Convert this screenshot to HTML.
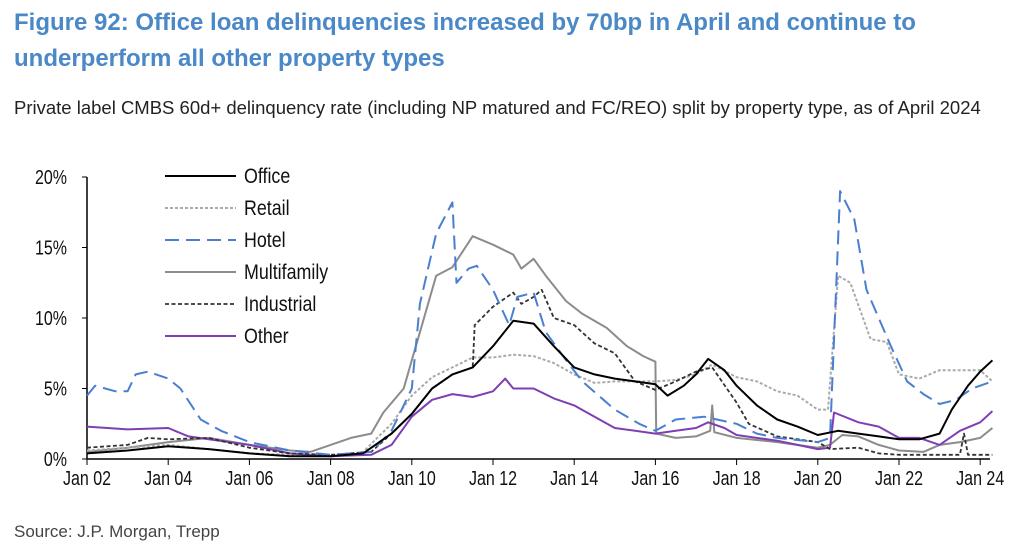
<!DOCTYPE html>
<html><head><meta charset="utf-8"><style>
body{margin:0;background:#fff;width:1032px;height:555px;overflow:hidden;font-family:"Liberation Sans",sans-serif}
.t{position:absolute;left:14px;top:5px;color:#4a88c7;font-weight:bold;font-size:24px;line-height:36px;white-space:nowrap}
.s{position:absolute;left:14px;top:97px;font-size:18.5px;color:#222;white-space:nowrap}
.src{position:absolute;left:14px;top:522px;font-size:17px;color:#444}
</style></head><body>
<div class="t">Figure 92: Office loan delinquencies increased by 70bp in April and continue to<br>underperform all other property types</div>
<div class="s">Private label CMBS 60d+ delinquency rate (including NP matured and FC/REO) split by property type, as of April 2024</div>
<div class="src">Source: J.P. Morgan, Trepp</div>
<svg id="c" width="1032" height="555" style="position:absolute;left:0;top:0"></svg>
<script>
const yTicks=[0,5,10,15,20];
const xTickYears=[2002,2004,2006,2008,2010,2012,2014,2016,2018,2020,2022,2024];
const xTickLabels=["Jan 02","Jan 04","Jan 06","Jan 08","Jan 10","Jan 12","Jan 14","Jan 16","Jan 18","Jan 20","Jan 22","Jan 24"];
const office=[[2002,0.4],[2003,0.6],[2004,0.9],[2005,0.7],[2006,0.4],[2007,0.2],[2008,0.2],[2008.8,0.4],[2009.5,1.8],[2010,3.2],[2010.5,5],[2011,6],[2011.5,6.5],[2012,8],[2012.5,9.8],[2013,9.6],[2013.5,8],[2014,6.5],[2014.5,6],[2015,5.7],[2015.5,5.5],[2016,5.3],[2016.3,4.5],[2016.7,5.2],[2017,6],[2017.3,7.1],[2017.7,6.3],[2018,5.2],[2018.5,3.8],[2019,2.8],[2019.5,2.3],[2020,1.7],[2020.5,2.0],[2021,1.8],[2021.5,1.6],[2022,1.4],[2022.5,1.4],[2023,1.8],[2023.3,3.5],[2023.7,5.2],[2024,6.2],[2024.3,7.0]];
const retail=[[2002,0.6],[2004,1.0],[2006,0.4],[2008,0.2],[2008.8,0.5],[2009.5,2.5],[2010,4.5],[2010.5,5.8],[2011,6.5],[2011.5,7.2],[2012,7.2],[2012.5,7.4],[2013,7.3],[2013.5,6.8],[2014,6],[2014.5,5.4],[2015,5.5],[2016,5.5],[2016.5,5.6],[2017,6],[2017.4,6.7],[2018,5.8],[2018.5,5.5],[2019,4.8],[2019.5,4.5],[2020,3.5],[2020.25,3.5],[2020.5,13],[2020.8,12.5],[2021.3,8.5],[2021.7,8.3],[2022,6],[2022.5,5.7],[2023,6.3],[2023.5,6.3],[2024,6.3],[2024.3,5.5]];
const hotel=[[2002,4.5],[2002.2,5.2],[2002.7,4.8],[2003,4.8],[2003.2,6],[2003.5,6.2],[2004,5.7],[2004.3,5],[2004.8,2.8],[2005.3,2],[2006,1.2],[2007,0.6],[2008,0.3],[2009,0.5],[2009.5,2],[2010,5],[2010.2,11],[2010.6,16],[2011,18.2],[2011.1,12.5],[2011.4,13.5],[2011.6,13.7],[2012,12],[2012.4,9.5],[2012.6,11.5],[2013,11.8],[2013.3,9],[2013.8,7],[2014.2,5.5],[2015,3.5],[2015.6,2.5],[2016,2.0],[2016.5,2.8],[2017.2,3.0],[2018,2.5],[2018.5,1.8],[2019,1.5],[2020,1.2],[2020.3,1.5],[2020.55,19],[2020.9,17],[2021.2,12],[2021.8,8],[2022.2,5.5],[2022.6,4.6],[2023,3.9],[2023.4,4.2],[2023.8,5.0],[2024.3,5.5]];
const multifamily=[[2002,0.5],[2003,0.8],[2004,1.2],[2005,1.5],[2006,1.0],[2007,0.6],[2007.5,0.5],[2008,1.0],[2008.5,1.5],[2009,1.8],[2009.3,3.3],[2009.8,5],[2010,7],[2010.3,10],[2010.6,13],[2011,13.6],[2011.5,15.8],[2012,15.2],[2012.5,14.5],[2012.7,13.5],[2013,14.2],[2013.3,13],[2013.8,11.2],[2014.2,10.3],[2014.8,9.3],[2015.3,8],[2015.7,7.3],[2016,6.9],[2016.02,1.8],[2016.5,1.5],[2017,1.6],[2017.35,2.0],[2017.4,3.8],[2017.45,1.9],[2018,1.5],[2019,1.2],[2020,0.8],[2020.3,1.0],[2020.6,1.7],[2021,1.6],[2021.5,1.0],[2022,0.6],[2022.6,0.5],[2023,1.0],[2023.5,1.2],[2024,1.5],[2024.3,2.2]];
const industrial=[[2002,0.8],[2003,1.0],[2003.5,1.5],[2004,1.4],[2005,1.5],[2006,0.8],[2007,0.4],[2008,0.3],[2009,0.5],[2009.5,1.8],[2010,3.2],[2010.5,5],[2011,6],[2011.5,6.5],[2011.55,9.5],[2012,10.8],[2012.5,11.8],[2012.7,11],[2013,11.5],[2013.2,12],[2013.5,10],[2014,9.5],[2014.5,8.2],[2015,7.5],[2015.5,5.5],[2016,4.9],[2016.5,5.5],[2017,6.2],[2017.4,6.5],[2018,4.0],[2018.3,2.5],[2019,1.6],[2020,1.2],[2020.3,0.7],[2021,0.8],[2021.5,0.4],[2022,0.3],[2023,0.3],[2023.5,0.3],[2023.6,1.8],[2023.7,0.3],[2024.3,0.3]];
const other=[[2002,2.3],[2003,2.1],[2004,2.2],[2004.5,1.6],[2005,1.4],[2006,1.0],[2007,0.4],[2008,0.2],[2009,0.3],[2009.5,1.0],[2010,3.0],[2010.5,4.2],[2011,4.6],[2011.5,4.4],[2012,4.8],[2012.3,5.7],[2012.5,5.0],[2013,5.0],[2013.5,4.3],[2014,3.8],[2014.5,3.0],[2015,2.2],[2016,1.8],[2016.5,2.0],[2017,2.2],[2017.3,2.6],[2017.7,2.2],[2018,1.7],[2019,1.3],[2019.5,1.0],[2020,0.7],[2020.3,0.8],[2020.4,3.3],[2021,2.6],[2021.5,2.3],[2022,1.5],[2022.5,1.5],[2023,1.0],[2023.5,2.0],[2024,2.6],[2024.3,3.4]];
const NS="http://www.w3.org/2000/svg",svg=document.getElementById('c');
const X=y=>87+(y-2002)*40.6, Y=v=>459-v*14.1;
function mk(t,a,p){const e=document.createElementNS(NS,t);for(const k in a)e.setAttribute(k,a[k]);(p||svg).appendChild(e);return e;}
const ax=mk('g',{});


mk('line',{x1:87,y1:Y(20),x2:87,y2:459,stroke:'#000','stroke-width':1.5},ax);
mk('line',{x1:87,y1:459,x2:990,y2:459,stroke:'#000','stroke-width':1.5},ax);
yTicks.forEach(v=>{mk('line',{x1:82,x2:87,y1:Y(v),y2:Y(v),stroke:'#000'},ax);
const g=mk('g',{transform:'translate(67,'+(Y(v)+7)+') scale(0.8,1)'},ax);
const t=mk('text',{x:0,y:0,'text-anchor':'end','font-size':20,fill:'#111'},g);t.textContent=v+'%';

});
xTickYears.forEach((yr,i)=>{mk('line',{x1:X(yr),x2:X(yr),y1:459,y2:465,stroke:'#000'},ax);
const g=mk('g',{transform:'translate('+X(yr)+',485) scale(0.8,1)'},ax);
const t=mk('text',{x:0,y:0,'text-anchor':'middle','font-size':20,fill:'#111'},g);t.textContent=xTickLabels[i];

});
const series=[["Office",office,'#000',2,''],["Retail",retail,'#aaa',2,'3,2'],["Hotel",hotel,'#4a7fd0',2,'14,7'],["Multifamily",multifamily,'#8c8c8c',2,''],["Industrial",industrial,'#333',1.8,'4,2.5'],["Other",other,'#7d3fb3',2,'']];
[3,1,5,4,2,0].forEach(i=>{const s=series[i];
const p=mk('path',{d:s[1].map((d,j)=>(j?'L':'M')+X(d[0]).toFixed(1)+','+Y(d[1]).toFixed(1)).join(''),fill:'none',stroke:s[2],'stroke-width':s[3],'stroke-dasharray':s[4],'stroke-linejoin':'round'});

});
series.forEach((s,i)=>{const g=mk('g',{});


const yy=176+i*32;
mk('line',{x1:165,x2:236,y1:yy,y2:yy,stroke:s[2],'stroke-width':s[3],'stroke-dasharray':s[4]},g);
const tg=mk('g',{transform:'translate(244,'+(yy+7)+') scale(0.85,1)'},g);
const t=mk('text',{x:0,y:0,'font-size':21,fill:'#111'},tg);t.textContent=s[0];});
</script>
</body></html>
